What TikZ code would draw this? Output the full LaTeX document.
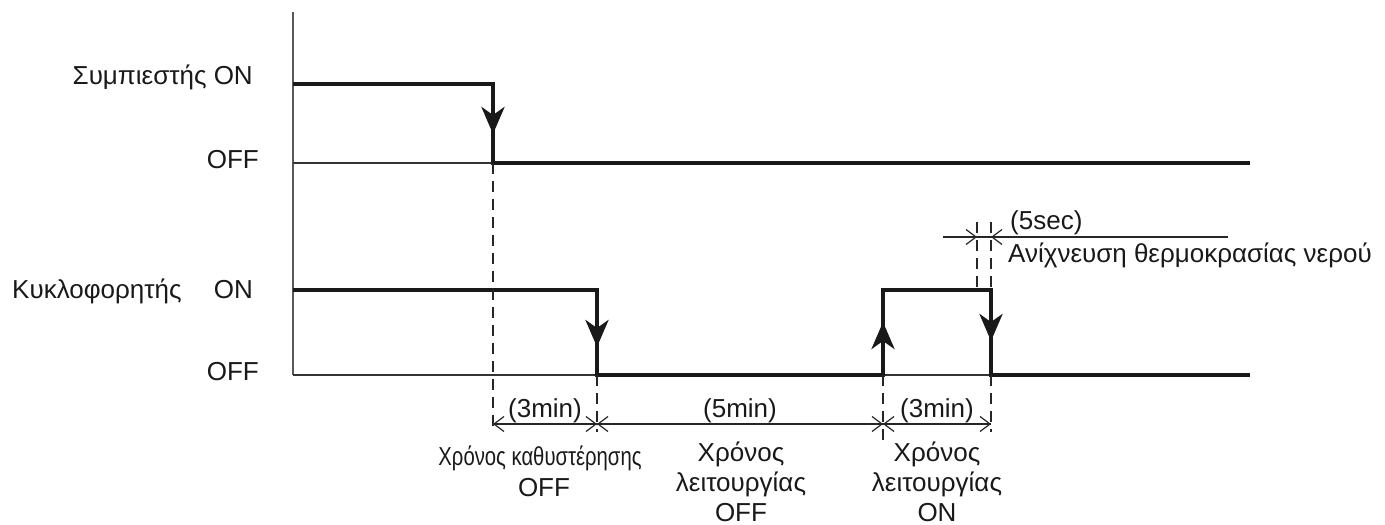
\documentclass[tikz,border=0pt]{standalone}
\usepackage{fontspec}
\setmainfont{Liberation Sans}
\usetikzlibrary{arrows.meta}
\begin{document}
\begin{tikzpicture}[x=1pt,y=-1pt,
  lbl/.style={font=\fontsize{26}{30}\selectfont, inner sep=0pt, text=black!90},
  blbl/.style={font=\fontsize{26}{30}\selectfont, inner sep=0pt, text=black!90},
  sig/.style={line width=4pt, draw=black!90, line join=miter},
  thinln/.style={line width=1.3pt, draw=black!80},
  axisln/.style={line width=1.5pt, draw=black!65},
  dashv/.style={line width=1.2pt, draw=black!85, dash pattern=on 11pt off 7pt},
  dimln/.style={line width=1.2pt, draw=black!85},
  sigtip/.style={-{Stealth[length=27pt,width=23pt,inset=8pt]}, line width=4pt, draw=black!90, fill=black!90},
  barb/.style={-{Straight Barb[length=10pt,width=15pt,line width=1.2pt]}, line width=1.2pt, draw=black!85}]
\useasboundingbox (0,0) rectangle (1385,525);

% key coordinates
\coordinate (axtop) at (293,12);
\coordinate (c0on) at (293,84);
\coordinate (c0off) at (293,163);
\coordinate (k0on) at (293,290);
\coordinate (k0off) at (293,375);
\coordinate (c1on) at (493,84);
\coordinate (c1off) at (493,163);
\coordinate (c1tip) at (493,134);
\coordinate (cend) at (1250,163);
\coordinate (k1on) at (597,290);
\coordinate (k1off) at (597,375);
\coordinate (k1tip) at (597,347);
\coordinate (k2off) at (883,375);
\coordinate (k2on) at (883,290);
\coordinate (k2tip) at (883,322);
\coordinate (k3on) at (991,290);
\coordinate (k3off) at (991,375);
\coordinate (k3tip) at (991,341);
\coordinate (kend) at (1250,375);

% axis and thin OFF lines
\draw[axisln] (axtop) -- (k0off);
\draw[thinln] (c0off) -- (c1off);
\draw[thinln] (k0off) -- (k1off);
\draw[thinln] (k2off) -- (k3off);

% compressor signal
\draw[sig] (c0on) -- (c1on) -- (c1off) -- (cend);
\draw[sigtip] (c1on) -- (c1tip);

% circulator signal
\draw[sig] (k0on) -- (k1on) -- (k1off) -- (k2off) -- (k2on) -- (k3on) -- (k3off) -- (kend);
\draw[sigtip] (k1on) -- (k1tip);
\draw[sigtip] (k2off) -- (k2tip);
\draw[sigtip] (k3on) -- (k3tip);

% dashed guides
\coordinate (g1) at (493,432);
\coordinate (g2) at (597,432);
\coordinate (g3) at (883,440);
\coordinate (g4) at (991,432);
\draw[dashv] (c1off) -- (g1);
\draw[dashv] (k1off) -- (g2);
\draw[dashv] (k2off) -- (g3);
\draw[dashv] (k3off) -- (g4);

\coordinate (s1top) at (977,222);
\coordinate (s1bot) at (977,290);
\coordinate (s2top) at (991,222);
\draw[dashv] (s1top) -- (s1bot);
\draw[dashv] (s2top) -- (k3on);

% dimension lines
\coordinate (d1) at (493,424);
\coordinate (d2) at (597,424);
\coordinate (d3) at (883,424);
\coordinate (d4) at (991,424);
\draw[barb] (d2) -- (d1);
\draw[barb] (d1) -- (d2);
\draw[barb] (d3) -- (d2);
\draw[barb] (d2) -- (d3);
\draw[barb] (d4) -- (d3);
\draw[barb] (d3) -- (d4);

\coordinate (e0) at (943,237);
\coordinate (e1) at (977,237);
\coordinate (e2) at (991,237);
\coordinate (e3) at (1228,237);
\coordinate (e4) at (1015,237);
\draw[dimln] (e0) -- (e3);
\draw[barb] (e0) -- (e1);
\draw[barb] (e4) -- (e2);

% left labels
\node[lbl, anchor=base east] (lc) at (253,84) {Συμπιεστής ON};
\node[lbl, anchor=base east] (lcoff) at (259,168) {OFF};
\node[lbl, anchor=base west] (lk) at (12,298) {Κυκλοφορητής};
\node[lbl, anchor=base east] (lkon) at (253,298) {ON};
\node[lbl, anchor=base east] (lkoff) at (259,380) {OFF};

% time labels
\node[blbl, anchor=base] (t1) at (545,417) {(3min)};
\node[blbl, anchor=base] (t2) at (740,417) {(5min)};
\node[blbl, anchor=base] (t3) at (937,417) {(3min)};

\node[blbl, anchor=base] (a1) at (540,465) {\scalebox{0.78}[1]{Χρόνος καθυστέρησης}};
\node[blbl, anchor=base] (a2) at (544,496) {OFF};

\node[blbl, anchor=base] (b1) at (741,461) {Χρόνος};
\node[blbl, anchor=base] (b2) at (741,491) {λειτουργίας};
\node[blbl, anchor=base] (b3) at (741,521) {OFF};

\node[blbl, anchor=base] (c1) at (937,461) {Χρόνος};
\node[blbl, anchor=base] (c2) at (937,491) {λειτουργίας};
\node[blbl, anchor=base] (c3) at (937,521) {ON};

\node[blbl, anchor=base west] (s5) at (1010,229) {(5sec)};
\node[blbl, anchor=base west] (sa) at (1008,262) {Ανίχνευση θερμοκρασίας νερού};
\end{tikzpicture}
\end{document}
